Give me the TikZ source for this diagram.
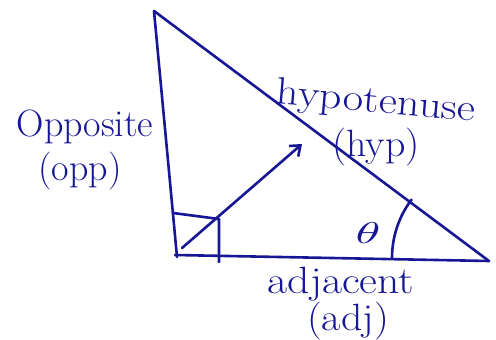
\documentclass[tikz,border=0pt]{standalone}
\usetikzlibrary{arrows.meta}
\definecolor{ink}{RGB}{22,22,150}
\begin{document}
\begin{tikzpicture}[x=1pt,y=-1pt,
  pen/.style={draw=ink,line width=2.6pt,line cap=round,line join=round},
  lbl/.style={text=ink,font=\fontsize{38}{42}\selectfont,inner sep=0pt,transform shape}]
\useasboundingbox (0,0) rectangle (496,340);
\coordinate (A) at (154,11);
\coordinate (B) at (177,257);
\coordinate (C) at (489,261);
\draw[pen] (A) -- (B);
\draw[pen] (A) -- (C);
\draw[pen] (175,255) -- (C);
% right-angle box
\coordinate (R1) at (173,213);
\coordinate (R2) at (219,219);
\coordinate (R3) at (219,262);
\draw[pen] (R1) -- (R2) -- (R3);
% arrow
\coordinate (S) at (182,248);
\coordinate (T) at (302,144);
\draw[pen,-{Straight Barb[length=9pt,width=14pt]}] (S) -- (T);
% angle arc
\draw[pen] (392,258) arc[start angle=180,end angle=217,radius=97];
\node[text=ink,inner sep=0pt,xscale=5,yscale=3,transform shape] (th) at (368,233) {$\theta$};
\node[lbl] (opp) at (85,127) {Opposite};
\node[lbl] (oppa) at (80,171) {(opp)};
\node[lbl,rotate=-5,xscale=1.17] (hyp) at (376,103) {hypotenuse};
\node[lbl,xscale=1.05] (hypa) at (376,147) {(hyp)};
\node[lbl,xscale=1.15] (adj) at (341,284) {adjacent};
\node[lbl,xscale=1.1] (adja) at (348,321) {(adj)};
\end{tikzpicture}
\end{document}
